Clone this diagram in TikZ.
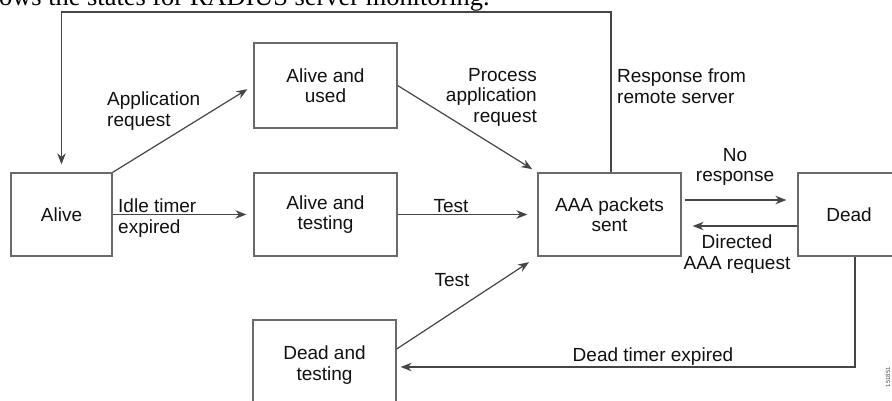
\documentclass[tikz,border=0pt]{standalone}
\usepackage{fontspec}
\setmainfont{Liberation Sans}
\newfontfamily\capserif{Liberation Serif}
\usetikzlibrary{arrows.meta}
\definecolor{linegray}{HTML}{454545}
\definecolor{boxgray}{HTML}{6A6A6A}
\definecolor{txt}{HTML}{111111}
\tikzset{
  statebox/.style={draw=boxgray, line width=1.3pt, fill=white, text=txt, align=center, inner sep=0pt,
    font=\fontsize{19}{20.5}\selectfont},
  lbl/.style={text=txt, inner sep=0pt, font=\fontsize{19}{20.5}\selectfont},
  arr/.style={draw=linegray, line width=1.2pt, -{Stealth[length=11pt,width=8.5pt]}},
}
\begin{document}
\begin{tikzpicture}[x=1pt,y=-1pt]
\useasboundingbox (0,0) rectangle (892,400);
\clip (0,0) rectangle (892,400);
\fill[white] (0,0) rectangle (892,400);
% caption fragment
\node[anchor=base west, inner sep=0pt, text=black, font=\capserif\fontsize{26.4}{26.4}\selectfont] (cap) at (-1,5) {ows the states for RADIUS server monitoring.};
% states
\node[statebox, minimum width=101pt, minimum height=83pt] (alive) at (61.5,214.5) {Alive};
\node[statebox, minimum width=143pt, minimum height=85pt] (used) at (325.5,85.5) {Alive and\\used};
\node[statebox, minimum width=143pt, minimum height=83pt] (testing) at (325.5,214.5) {Alive and\\testing};
\node[statebox, minimum width=143pt, minimum height=83pt] (aaa) at (609.5,214.5) {AAA packets\\sent};
\node[statebox, minimum width=102pt, minimum height=83pt] (dead) at (849,214.5) {Dead};
\node[statebox, minimum width=143pt, minimum height=90pt] (dtest) at (324.5,365) {Dead and\\testing};
% loop coordinates
\coordinate (tr) at (611,12);
\coordinate (tl) at (61.5,12);
\coordinate (dc) at (855,367);
% connectors
\draw[arr, shorten >=8pt] (aaa.north -| tr) -- (tr) -- (tl) -- (alive.north);
\draw[arr, shorten >=7pt] (alive.north east) -- (used.west);
\draw[arr, shorten >=7pt] (alive.east) -- (testing.west);
\draw[arr, shorten >=6pt] (used.east) -- (aaa.north west);
\draw[arr, shorten >=10pt] (testing.east) -- (aaa.west);
\draw[arr, shorten >=10pt] ([yshift=16pt]dtest.east) -- (aaa.south west);
\draw[arr, shorten <=3pt, shorten >=11pt] ([yshift=14.5pt]aaa.east) -- ([yshift=14.5pt]dead.west);
\draw[arr, shorten >=11pt] ([yshift=-11.5pt]dead.west) -- ([yshift=-11.5pt]aaa.east);
\draw[arr, shorten >=4pt] (dead.south -| dc) -- (dc) -- (dtest.east |- dc);
% labels
\node[lbl, anchor=west, align=left] (l1) at (107,111) {Application\\request};
\node[lbl, anchor=west, align=left] (l2) at (118,218) {Idle timer\\expired};
\node[lbl, anchor=east, align=right] (l3) at (537,97) {Process\\application\\request};
\node[lbl, anchor=west, align=left] (l4) at (617,86) {Response from\\remote server};
\node[lbl] (l5) at (451,206) {Test};
\node[lbl, align=center] (l6) at (735,167) {No\\response};
\node[lbl, align=center] (l7) at (737,254) {Directed\\AAA request};
\node[lbl] (l8) at (452,280) {Test};
\node[lbl] (l9) at (653,357) {Dead timer expired};
\node[text=black!70, inner sep=0pt, rotate=90, font=\fontsize{6}{6}\selectfont] (fig) at (888,377) {151851};
\end{tikzpicture}
\end{document}
